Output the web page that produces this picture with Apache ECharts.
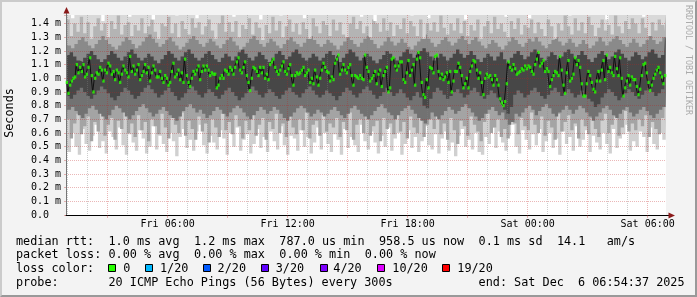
<!DOCTYPE html>
<html><head><meta charset="utf-8">
<script src="https://cdn.jsdelivr.net/npm/echarts@6/dist/echarts.min.js"></script>
<style>
html,body{margin:0;padding:0;background:#f3f3f3;overflow:hidden}
#wrap{position:relative;width:697px;height:297px}
#chart{position:absolute;left:0;top:0;width:697px;height:297px}
#frame{position:absolute;left:0;top:0;width:697px;height:297px;box-sizing:border-box;border-style:solid;border-width:2px;border-color:#cbcbcb #999 #999 #cbcbcb;pointer-events:none}
</style></head><body>
<div id="wrap"><div id="chart"></div><div id="frame"></div></div>
<script>
// ---- time base ----
const seriesStartUTC = Date.UTC(2025, 11, 5, 0, 55); // Fri 00:55
const medianStepMinutes = 5;
const tickLabels = ['Fri 06:00', 'Fri 12:00', 'Fri 18:00', 'Sat 00:00', 'Sat 06:00'];
const yMax = 1.463; // ms, top of plot

// ---- median rtt (ms), one per 5 min ----
const median = [
0.97,0.89,0.95,0.98,1.00,1.01,1.10,1.04,1.08,1.05,
1.10,1.01,1.03,1.08,1.15,1.02,0.90,1.00,1.04,1.03,
1.08,1.06,0.98,1.06,1.04,1.11,1.09,1.03,1.05,0.99,
1.06,1.04,0.97,1.03,1.09,1.06,1.04,1.01,1.16,1.05,
1.09,1.03,1.06,1.10,0.99,1.02,1.05,1.10,1.04,1.08,
0.98,1.04,1.09,1.06,1.01,1.01,1.05,1.00,0.97,1.02,
1.00,0.95,0.97,1.05,1.11,1.01,1.03,1.06,0.99,1.04,
0.97,1.14,1.02,0.97,0.94,1.00,1.05,1.03,1.06,1.09,
0.99,1.05,1.09,1.06,1.09,1.06,1.02,1.04,1.03,1.03,
0.93,0.95,1.00,1.02,1.00,1.06,1.05,1.03,1.08,1.06,
1.03,1.08,1.12,1.15,1.06,1.04,1.08,1.12,1.02,0.97,
0.91,1.00,1.08,1.07,1.05,1.02,1.08,1.04,1.08,1.00,
1.03,0.99,1.10,1.12,1.14,1.08,1.05,1.03,1.06,1.09,
1.12,1.05,1.03,1.07,1.10,1.02,0.95,1.02,1.04,1.03,
1.04,1.06,1.08,1.02,1.04,1.06,0.97,1.00,0.96,1.06,
1.01,0.95,1.00,1.06,1.11,1.08,1.05,1.04,0.98,1.01,
0.99,1.11,1.14,1.17,1.03,1.06,1.10,1.06,1.04,1.08,
1.10,1.02,0.95,1.02,1.01,1.00,1.02,1.00,0.99,1.17,
1.08,1.05,0.98,1.00,1.02,1.05,0.96,1.03,1.06,0.94,
1.02,1.05,1.08,0.90,0.93,1.14,1.15,1.09,1.06,1.09,
1.12,1.12,0.99,0.97,1.04,1.13,1.02,1.06,1.10,0.95,
1.14,1.19,1.15,0.97,0.88,0.86,0.99,0.93,1.08,1.07,
1.04,1.16,1.17,1.05,1.00,1.03,0.99,1.01,1.04,0.97,
1.05,0.90,0.98,1.05,1.05,1.11,1.08,1.02,0.93,0.96,
1.00,0.93,1.05,1.09,1.13,1.12,1.06,1.00,1.04,0.97,
0.88,1.00,1.03,1.01,1.02,0.99,0.95,1.02,0.99,0.95,
0.85,0.82,0.80,0.83,0.96,1.12,1.08,1.06,1.10,1.07,
1.03,1.04,1.05,1.07,1.06,1.09,1.07,1.09,1.08,1.05,
1.03,1.10,1.14,1.19,1.09,1.11,1.13,1.05,1.07,1.05,
0.94,0.99,1.02,1.05,1.04,1.02,1.16,1.06,0.95,0.89,
1.04,1.13,0.98,1.00,1.03,1.15,1.10,1.13,1.08,0.96,
0.87,0.87,0.96,1.05,1.02,0.97,0.92,0.90,0.98,1.05,
0.98,1.06,1.13,0.99,1.17,1.05,1.08,1.04,1.02,1.16,
1.07,1.02,1.15,1.00,0.87,0.93,0.98,1.02,0.95,1.01,
0.99,0.99,0.94,0.88,0.92,1.02,1.10,1.11,1.04,0.97,
0.91,0.95,1.00,1.03,1.06,1.08,1.04,1.01,0.96,1.02
];

// ---- smoke (ms): spread of the 20 pings, one column per 10 min ----
const smokeHi = [
1.55,1.62,1.44,1.58,1.66,1.50,1.60,1.47,1.64,1.53,
1.59,1.42,1.57,1.63,1.52,1.68,1.49,1.61,1.55,1.45,
1.62,1.56,1.65,1.48,1.58,1.60,1.43,1.67,1.54,1.59,
1.51,1.63,1.57,1.46,1.61,1.55,1.66,1.52,1.60,1.44,
1.64,1.58,1.50,1.62,1.56,1.47,1.65,1.53,1.59,1.61,
1.45,1.60,1.54,1.67,1.57,1.49,1.62,1.55,1.43,1.63,
1.58,1.52,1.66,1.59,1.46,1.61,1.56,1.64,1.50,1.57,
1.62,1.44,1.59,1.55,1.65,1.51,1.60,1.47,1.63,1.58,
1.53,1.61,1.57,1.68,1.48,1.62,1.55,1.59,1.45,1.64,
1.60,1.56,1.42,1.63,1.58,1.66,1.52,1.61,1.57,1.49,
1.65,1.54,1.60,1.46,1.62,1.58,1.67,1.53,1.44,1.61,
1.57,1.63,1.50,1.59,1.65,1.48,1.62,1.56,1.60,1.43,
1.64,1.58,1.52,1.61,1.47,1.66,1.55,1.60,1.63,1.51,
1.59,1.45,1.62,1.57,1.64,1.50,1.61,1.56,1.44,1.66,
1.58,1.62,1.53,1.60,1.47,1.65,1.57,1.61,1.52,1.63,
1.46,1.59,1.64,1.55,1.61,1.49,1.67,1.58,1.62,1.54,
1.60,1.43,1.63,1.57,1.52,1.65,1.59,1.48,1.61,1.56,
1.64,1.58,1.45,1.62,1.60,1.53,1.66,1.57,1.50,1.61
];
const smokeU3 = [
1.37,1.43,1.31,1.40,1.34,1.45,1.33,1.41,1.29,1.38,
1.44,1.35,1.40,1.30,1.42,1.36,1.46,1.32,1.39,1.41,
1.31,1.39,1.35,1.44,1.33,1.38,1.43,1.34,1.29,1.40,
1.38,1.45,1.33,1.40,1.30,1.42,1.36,1.32,1.44,1.37,
1.41,1.32,1.38,1.43,1.35,1.29,1.40,1.46,1.34,1.41,
1.34,1.42,1.30,1.39,1.36,1.44,1.32,1.41,1.37,1.28,
1.39,1.33,1.45,1.35,1.42,1.30,1.38,1.43,1.34,1.40,
1.32,1.41,1.36,1.29,1.44,1.38,1.33,1.42,1.39,1.31,
1.43,1.35,1.41,1.32,1.30,1.40,1.45,1.36,1.42,1.33,
1.38,1.30,1.43,1.40,1.34,1.44,1.35,1.41,1.31,1.39,
1.36,1.44,1.33,1.42,1.38,1.31,1.43,1.29,1.40,1.35,
1.41,1.34,1.46,1.37,1.32,1.40,1.35,1.44,1.33,1.42,
1.31,1.39,1.35,1.43,1.29,1.38,1.42,1.33,1.45,1.36,
1.40,1.34,1.30,1.42,1.36,1.44,1.32,1.39,1.37,1.43,
1.33,1.41,1.36,1.31,1.43,1.38,1.29,1.40,1.35,1.46,
1.38,1.32,1.44,1.35,1.41,1.33,1.45,1.39,1.31,1.37,
1.43,1.35,1.39,1.32,1.46,1.38,1.33,1.42,1.36,1.44,
1.40,1.33,1.44,1.37,1.31,1.41,1.35,1.43,1.39,1.34
];
const smokeU2 = [
1.26,1.24,1.22,1.25,1.28,1.30,1.27,1.24,1.22,1.25,
1.28,1.31,1.28,1.25,1.23,1.21,1.24,1.27,1.30,1.28,
1.25,1.22,1.24,1.27,1.30,1.32,1.29,1.26,1.23,1.25,
1.28,1.30,1.27,1.24,1.21,1.23,1.26,1.29,1.31,1.28,
1.25,1.23,1.26,1.29,1.27,1.24,1.22,1.25,1.28,1.30,
1.27,1.24,1.21,1.23,1.26,1.29,1.31,1.28,1.25,1.23,
1.26,1.29,1.27,1.24,1.22,1.25,1.28,1.30,1.27,1.25,
1.23,1.26,1.29,1.31,1.28,1.25,1.23,1.25,1.28,1.26,
1.24,1.21,1.24,1.27,1.30,1.28,1.25,1.23,1.26,1.29,
1.31,1.28,1.25,1.22,1.24,1.27,1.30,1.27,1.24,1.26,
1.29,1.26,1.23,1.21,1.24,1.27,1.29,1.32,1.29,1.26,
1.23,1.25,1.28,1.30,1.27,1.24,1.26,1.29,1.31,1.28,
1.25,1.28,1.30,1.27,1.24,1.22,1.25,1.28,1.26,1.23,
1.21,1.24,1.27,1.30,1.28,1.25,1.23,1.26,1.29,1.27,
1.30,1.27,1.24,1.22,1.25,1.28,1.30,1.27,1.24,1.26,
1.29,1.26,1.23,1.25,1.28,1.25,1.22,1.24,1.27,1.30,
1.27,1.24,1.27,1.29,1.31,1.28,1.25,1.23,1.26,1.29,
1.26,1.23,1.25,1.28,1.31,1.28,1.25,1.27,1.30,1.27
];
const smokeU1 = [
1.15,1.17,1.19,1.16,1.13,1.12,1.15,1.18,1.20,1.17,
1.14,1.12,1.14,1.17,1.20,1.18,1.15,1.13,1.16,1.19,
1.21,1.18,1.15,1.13,1.15,1.18,1.16,1.13,1.11,1.14,
1.17,1.20,1.18,1.15,1.13,1.16,1.19,1.21,1.18,1.15,
1.13,1.15,1.18,1.20,1.17,1.14,1.12,1.15,1.18,1.16,
1.13,1.16,1.19,1.21,1.18,1.15,1.13,1.16,1.19,1.17,
1.14,1.12,1.15,1.18,1.20,1.17,1.14,1.16,1.19,1.21,
1.18,1.15,1.13,1.15,1.18,1.16,1.13,1.15,1.18,1.20,
1.17,1.14,1.12,1.15,1.18,1.21,1.19,1.16,1.13,1.15,
1.18,1.16,1.13,1.11,1.14,1.17,1.20,1.18,1.15,1.13,
1.16,1.19,1.21,1.18,1.15,1.17,1.20,1.22,1.19,1.16,
1.13,1.15,1.18,1.16,1.13,1.15,1.18,1.21,1.18,1.15,
1.17,1.20,1.17,1.14,1.12,1.15,1.18,1.16,1.13,1.16,
1.19,1.14,1.11,1.15,1.18,1.20,1.17,1.14,1.16,1.19,
1.21,1.18,1.15,1.13,1.16,1.19,1.17,1.14,1.16,1.19,
1.21,1.18,1.15,1.17,1.20,1.17,1.14,1.12,1.15,1.18,
1.20,1.17,1.14,1.16,1.19,1.21,1.18,1.15,1.13,1.16,
1.19,1.17,1.14,1.16,1.19,1.21,1.18,1.15,1.17,1.20
];
const smokeL1 = [
0.89,0.87,0.85,0.88,0.91,0.93,0.90,0.87,0.85,0.88,
0.91,0.94,0.92,0.89,0.86,0.84,0.87,0.90,0.93,0.91,
0.88,0.85,0.87,0.90,0.93,0.95,0.92,0.89,0.86,0.88,
0.91,0.93,0.90,0.87,0.84,0.86,0.89,0.92,0.94,0.91,
0.88,0.86,0.89,0.92,0.90,0.87,0.85,0.88,0.91,0.93,
0.90,0.87,0.84,0.86,0.89,0.92,0.94,0.91,0.88,0.86,
0.89,0.92,0.90,0.87,0.85,0.88,0.91,0.93,0.90,0.88,
0.86,0.89,0.92,0.94,0.91,0.88,0.86,0.88,0.91,0.89,
0.87,0.84,0.87,0.90,0.93,0.91,0.88,0.86,0.89,0.92,
0.94,0.91,0.88,0.85,0.87,0.90,0.93,0.90,0.87,0.89,
0.92,0.89,0.86,0.84,0.87,0.90,0.86,0.80,0.78,0.85,
0.90,0.93,0.91,0.88,0.85,0.87,0.90,0.92,0.89,0.86,
0.88,0.91,0.93,0.90,0.87,0.85,0.88,0.91,0.89,0.86,
0.84,0.77,0.74,0.79,0.88,0.91,0.89,0.86,0.88,0.91,
0.93,0.90,0.87,0.85,0.88,0.91,0.93,0.90,0.87,0.89,
0.92,0.89,0.86,0.88,0.91,0.88,0.85,0.83,0.79,0.81,
0.86,0.89,0.92,0.90,0.87,0.84,0.86,0.89,0.92,0.90,
0.87,0.85,0.88,0.91,0.93,0.90,0.87,0.89,0.92,0.90
];
const smokeL2 = [
0.75,0.77,0.79,0.76,0.73,0.71,0.74,0.78,0.80,0.77,
0.74,0.72,0.70,0.73,0.77,0.80,0.78,0.75,0.72,0.70,
0.73,0.76,0.79,0.81,0.78,0.75,0.72,0.74,0.77,0.79,
0.76,0.73,0.71,0.69,0.72,0.76,0.79,0.81,0.78,0.75,
0.77,0.74,0.71,0.73,0.76,0.79,0.77,0.74,0.72,0.75,
0.78,0.80,0.78,0.75,0.72,0.70,0.73,0.76,0.79,0.77,
0.74,0.76,0.79,0.77,0.74,0.71,0.69,0.72,0.75,0.78,
0.80,0.78,0.75,0.72,0.74,0.77,0.75,0.72,0.74,0.77,
0.79,0.76,0.73,0.71,0.74,0.78,0.80,0.77,0.74,0.72,
0.70,0.73,0.76,0.79,0.81,0.78,0.75,0.73,0.70,0.73,
0.76,0.78,0.80,0.77,0.74,0.71,0.69,0.67,0.70,0.75,
0.72,0.70,0.73,0.76,0.79,0.77,0.74,0.76,0.79,0.81,
0.78,0.75,0.72,0.69,0.71,0.74,0.77,0.79,0.76,0.73,
0.75,0.70,0.66,0.68,0.74,0.72,0.75,0.78,0.80,0.77,
0.73,0.76,0.79,0.81,0.78,0.74,0.72,0.75,0.77,0.80,
0.77,0.74,0.77,0.80,0.78,0.75,0.72,0.69,0.72,0.75,
0.78,0.80,0.77,0.73,0.71,0.74,0.77,0.79,0.75,0.72,
0.74,0.77,0.79,0.76,0.73,0.71,0.74,0.77,0.79,0.76
];
const smokeL3 = [
0.63,0.70,0.56,0.67,0.74,0.59,0.65,0.72,0.54,0.68,
0.61,0.75,0.58,0.66,0.71,0.55,0.69,0.63,0.76,0.60,
0.67,0.57,0.73,0.62,0.68,0.54,0.70,0.65,0.59,0.74,
0.64,0.56,0.71,0.66,0.60,0.75,0.58,0.69,0.63,0.55,
0.72,0.61,0.67,0.53,0.70,0.64,0.57,0.74,0.62,0.68,
0.59,0.73,0.65,0.56,0.69,0.62,0.76,0.58,0.66,0.71,
0.55,0.68,0.63,0.74,0.60,0.67,0.57,0.72,0.64,0.59,
0.70,0.62,0.75,0.56,0.66,0.69,0.58,0.73,0.61,0.67,
0.64,0.71,0.57,0.68,0.62,0.75,0.55,0.66,0.70,0.60,
0.73,0.58,0.65,0.69,0.54,0.71,0.63,0.67,0.59,0.74,
0.61,0.68,0.56,0.72,0.64,0.60,0.76,0.57,0.66,0.70,
0.63,0.74,0.59,0.67,0.55,0.71,0.62,0.52,0.69,0.65,
0.58,0.72,0.66,0.61,0.54,0.68,0.74,0.60,0.64,0.70,
0.57,0.63,0.56,0.73,0.67,0.59,0.71,0.65,0.62,0.75,
0.66,0.60,0.72,0.58,0.69,0.64,0.55,0.74,0.61,0.68,
0.73,0.62,0.67,0.56,0.70,0.65,0.59,0.71,0.63,0.57,
0.69,0.74,0.60,0.66,0.72,0.58,0.64,0.76,0.61,0.67,
0.62,0.70,0.65,0.73,0.57,0.68,0.63,0.59,0.71,0.66
];
const smokeLo = [
0.55,0.46,0.60,0.50,0.44,0.63,0.52,0.47,0.58,0.66,
0.49,0.54,0.45,0.61,0.57,0.48,0.64,0.51,0.44,0.59,
0.53,0.47,0.62,0.56,0.45,0.50,0.65,0.48,0.58,0.52,
0.46,0.60,0.54,0.43,0.57,0.63,0.49,0.55,0.47,0.61,
0.66,0.51,0.45,0.58,0.53,0.48,0.62,0.56,0.44,0.60,
0.50,0.64,0.47,0.55,0.59,0.45,0.52,0.63,0.49,0.57,
0.46,0.61,0.54,0.48,0.65,0.51,0.44,0.58,0.56,0.47,
0.62,0.50,0.57,0.45,0.53,0.64,0.48,0.60,0.52,0.46,
0.59,0.55,0.44,0.63,0.49,0.57,0.51,0.46,0.66,0.54,
0.48,0.61,0.53,0.45,0.58,0.50,0.64,0.47,0.56,0.60,
0.44,0.52,0.62,0.49,0.57,0.46,0.54,0.65,0.51,0.48,
0.59,0.45,0.56,0.61,0.47,0.53,0.43,0.58,0.63,0.50,
0.55,0.48,0.60,0.46,0.44,0.57,0.52,0.64,0.49,0.61,
0.53,0.47,0.58,0.66,0.50,0.45,0.62,0.55,0.48,0.59,
0.51,0.63,0.46,0.54,0.60,0.49,0.56,0.44,0.61,0.52,
0.57,0.47,0.65,0.50,0.55,0.62,0.46,0.58,0.53,0.48,
0.60,0.52,0.45,0.63,0.49,0.56,0.59,0.66,0.47,0.54,
0.50,0.61,0.57,0.46,0.64,0.52,0.48,0.60,0.55,0.51
];

// ---- legend texts ----
const statNames = ['median rtt:', 'packet loss:', 'loss color:', 'probe:'];
const rttStats = ['1.0 ms avg', '1.2 ms max', '787.0 us min', '958.5 us now', '0.1 ms sd', '14.1', 'am/s'];
const lossStats = ['0.00 % avg', '0.00 % max', '0.00 % min', '0.00 % now'];
const lossLabels = ['0', '1/20', '2/20', '3/20', '4/20', '10/20', '19/20'];
const lossColors = ['#26ff00', '#00b8ff', '#0059ff', '#5e00ff', '#7e00ff', '#dd00ff', '#ff0000'];
const probeText = '20 ICMP Echo Pings (56 Bytes) every 300s';
const endText = 'end: Sat Dec  6 06:54:37 2025';
const yTitle = 'Seconds';
const watermark = 'RRDTOOL / TOBI OETIKER';

// ---- helpers ----
const DAYS = ['Sun','Mon','Tue','Wed','Thu','Fri','Sat'];
function pad(n){ return (n < 10 ? '0' : '') + n; }
function slotLabel(stepMin, i){
  const d = new Date(seriesStartUTC + i * stepMin * 60000);
  return DAYS[d.getUTCDay()] + ' ' + pad(d.getUTCHours()) + ':' + pad(d.getUTCMinutes());
}
const timeCats = median.map((_, i) => slotLabel(medianStepMinutes, i));          // 5-min slots
const gridCats = timeCats.concat([slotLabel(medianStepMinutes, median.length)]); // slot edges
const isHour = v => typeof v === 'string' && v.slice(-2) === '00';
const isMajor = v => isHour(v) && (+v.slice(4, 6)) % 3 === 0;
const isMinor = v => isHour(v) && !isMajor(v);

const MONO = 'DejaVu Sans Mono';
const pinkGrid = 'rgba(190,30,30,0.32)';
const greyGrid = 'rgba(130,130,130,0.40)';

// Smoke columns are indexed 0..179; the two hidden index axes are offset by a fraction of a
// column so that neighbouring layers change at different places (finer texture).
const smokeSpan = 178.6;
// Each layer fills from its boundary up to the top of the plot; later layers cover earlier ones.
// [values, colour, smoke axis (3 = base phase, 4 = shifted phase)]
const smokeLayers = [
  [smokeLo, '#d0d0d0', 3], [smokeL3, '#a4a4a4', 4], [smokeL2, '#727272', 3], [smokeL1, '#474747', 4],
  [smokeU1, '#8a8a8a', 4], [smokeU2, '#b4b4b4', 3], [smokeU3, '#d9d9d9', 4], [smokeHi, '#ffffff', 3]
];
const series = smokeLayers.map(([d, c, ax]) => ({
  type: 'line', xAxisIndex: ax, yAxisIndex: 0, data: d.map((v, j) => [j, v]), step: 'middle',
  symbol: 'none', showSymbol: false, silent: true, z: 2,
  lineStyle: { width: 0, opacity: 0, color: c }, areaStyle: { color: c, opacity: 1, origin: 'end' }
}));
series.push({
  type: 'line', xAxisIndex: 0, yAxisIndex: 0, data: median, step: 'middle',
  symbol: 'none', showSymbol: false, silent: true, z: 4,
  lineStyle: { width: 1, color: '#101010' }
});
series.push({
  type: 'scatter', xAxisIndex: 0, yAxisIndex: 0, data: median, silent: true, z: 5,
  symbol: 'rect', symbolSize: [2.4, 3.2], itemStyle: { color: lossColors[0] }
});

// ---- texts / decorations (layout) ----
const F = '11.8px "DejaVu Sans Mono"';
const CW = 7.117, X0 = 16;
const g = [];
function T(x, y, s){ g.push({ type: 'text', x: x, y: y, silent: true,
  style: { text: s, font: F, fill: '#000', align: 'left', verticalAlign: 'middle' } }); }
const rowY = [241.7, 255.2, 269.2, 283.3];
statNames.forEach((s, k) => T(X0, rowY[k], s));
const rttCols = [13, 25, 37, 51, 65, 76, 83];
rttStats.forEach((s, k) => T(X0 + rttCols[k] * CW, rowY[0], s));
const lossCols = [13, 25, 37, 49];
lossStats.forEach((s, k) => T(X0 + lossCols[k] * CW, rowY[1], s));
const boxX = [108, 145, 203, 261, 320, 377, 442];
const boxTextX = [123.3, 160, 217.6, 275.7, 333.3, 392.3, 457.3];
lossColors.forEach((c, k) => {
  g.push({ type: 'rect', silent: true, shape: { x: boxX[k] + 0.5, y: 264.5, width: 7, height: 7 },
    style: { fill: c, stroke: '#000', lineWidth: 1 } });
  T(boxTextX[k], rowY[2], lossLabels[k]);
});
T(X0 + 13 * CW, rowY[3], probeText);
T(X0 + 65 * CW, rowY[3], endText);
g.push({ type: 'text', x: 10, y: 113, rotation: Math.PI / 2, silent: true,
  style: { text: yTitle, font: F, fill: '#000', align: 'center', verticalAlign: 'middle' } });
g.push({ type: 'text', x: 688, y: 60, rotation: -Math.PI / 2, silent: true,
  style: { text: watermark, font: '8.3px "DejaVu Sans Mono"', fill: '#ababab', align: 'center', verticalAlign: 'middle' } });
g.push({ type: 'line', silent: true, shape: { x1: 66.5, y1: 15, x2: 66.5, y2: 11 }, style: { stroke: '#777', lineWidth: 1 } });
g.push({ type: 'polygon', silent: true, shape: { points: [[66.5, 7], [63.5, 13.5], [69.5, 13.5]] }, style: { fill: '#8b1a1a' } });
g.push({ type: 'line', silent: true, shape: { x1: 666, y1: 215.5, x2: 669, y2: 215.5 }, style: { stroke: '#000', lineWidth: 1 } });
g.push({ type: 'polygon', silent: true, shape: { points: [[675, 215.5], [668.5, 212.5], [668.5, 218.5]] }, style: { fill: '#8b1a1a' } });

const option = {
  backgroundColor: '#f3f3f3',
  animation: false,
  grid: { left: 66, top: 15, width: 600, height: 200, show: true, backgroundColor: '#ffffff',
    borderWidth: 0, borderColor: 'rgba(0,0,0,0)', containLabel: false, outerBoundsMode: 'none' },
  xAxis: [
    { type: 'category', data: timeCats, boundaryGap: true, show: false },
    { type: 'category', data: gridCats, boundaryGap: false, z: 3, position: 'bottom',
      axisLine: { show: true, lineStyle: { color: '#000', width: 1 } },
      axisTick: { show: false },
      axisLabel: { interval: (i, v) => tickLabels.indexOf(v) >= 0, margin: 4,
        fontFamily: MONO, fontSize: 10, color: '#000' },
      splitLine: { show: true, interval: (i, v) => isMinor(v),
        lineStyle: { color: greyGrid, type: [1, 1], width: 1 } } },
    { type: 'category', data: gridCats, boundaryGap: false, z: 3, position: 'bottom',
      axisLine: { show: false }, axisLabel: { show: false },
      axisTick: { show: true, interval: (i, v) => isMajor(v), length: 3, lineStyle: { color: pinkGrid } },
      splitLine: { show: true, interval: (i, v) => isMajor(v),
        lineStyle: { color: pinkGrid, type: [1, 1], width: 1 } } },
    { type: 'value', min: 0, max: smokeSpan, show: false },
    { type: 'value', min: 0.4, max: 0.4 + smokeSpan, show: false }
  ],
  yAxis: {
    type: 'value', min: 0, max: yMax, interval: 0.1, z: 3,
    axisLine: { show: true, lineStyle: { color: '#777', width: 1 } },
    axisTick: { show: true, length: 2, lineStyle: { color: pinkGrid } },
    axisLabel: { align: 'left', margin: 35, fontFamily: MONO, fontSize: 10, color: '#000',
      formatter: v => { const k = Math.round(v * 10); if (Math.abs(v * 10 - k) > 1e-6) return '';
        return k === 0 ? '0.0' : (k / 10).toFixed(1) + ' m'; } },
    splitLine: { show: true, showMinLine: false, showMaxLine: false,
      lineStyle: { color: pinkGrid, type: [1, 1], width: 1 } }
  },
  series: series,
  graphic: g
};
const chart = echarts.init(document.getElementById('chart'), null, { renderer: 'canvas' });
chart.setOption(option);
</script>
</body></html>
